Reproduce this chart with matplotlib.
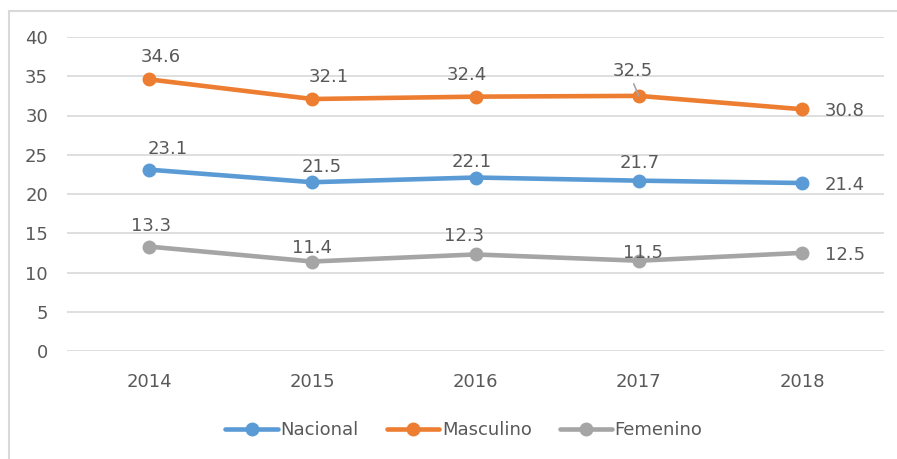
import matplotlib.pyplot as plt
from matplotlib.patches import Rectangle

years = ['2014', '2015', '2016', '2017', '2018']
nacional = [23.1, 21.5, 22.1, 21.7, 21.4]
masculino = [34.6, 32.1, 32.4, 32.5, 30.8]
femenino = [13.3, 11.4, 12.3, 11.5, 12.5]

# label offsets in pixels (dx, dy) for each point
off_nac = [(19, 21), (9, 15), (-4, 16), (1, 18), (23, -2)]
off_mas = [(12, 22), (16, 22), (-9, 22), (-6, 25), (23, -2)]
off_fem = [(2, 21), (0, 14), (-11, 18), (4, 8), (23, -2)]

txt = '#595959'
plt.rcParams['font.family'] = 'DejaVu Sans'
plt.rcParams['font.size'] = 13

fig = plt.figure(figsize=(8.97, 4.59), dpi=100)
ax = fig.add_axes([67.4 / 897, 108 / 459, (883.6 - 67.4) / 897, 314 / 459])

x = list(range(len(years)))
series = [('Nacional', nacional, '#5B9BD5', off_nac),
          ('Masculino', masculino, '#ED7D31', off_mas),
          ('Femenino', femenino, '#A5A5A5', off_fem)]
for name, vals, col, offs in series:
    ax.plot(x, vals, color=col, lw=3.3, marker='o', ms=9, label=name,
            solid_capstyle='round')
    for i, v in enumerate(vals):
        dx, dy = offs[i]
        ha = 'left' if i == len(vals) - 1 else 'center'
        ax.annotate(f'{v:.1f}', (i, v), xytext=(dx, dy), textcoords='offset pixels',
                    ha=ha, va='center', color=txt, fontsize=13)

# small leader line for the 2017 masculino label
ax.annotate('', (3, masculino[3]), xytext=(-5, 12), textcoords='offset pixels',
            arrowprops=dict(arrowstyle='-', color='#A5A5A5', lw=1.2,
                            shrinkA=0, shrinkB=0), zorder=5)

ax.set_xlim(-0.5, 4.5)
ax.set_ylim(0, 40)
ax.set_yticks(range(0, 41, 5))
ax.set_xticks(x)
ax.set_xticklabels(years)
ax.grid(axis='y', color='#D9D9D9', lw=1.2)
ax.set_axisbelow(True)
for s in ax.spines.values():
    s.set_visible(False)
ax.tick_params(length=0, colors=txt, labelsize=13)
ax.tick_params(axis='y', pad=14)
ax.tick_params(axis='x', pad=16)

fig.legend(loc='center', bbox_to_anchor=(464 / 897, 1 - 430 / 459), ncol=3,
           frameon=False, handlelength=2.9, handletextpad=0.15, columnspacing=1.55,
           labelcolor=txt, fontsize=13)

# chart border (cropped at the right and bottom)
fig.patches.append(Rectangle((9 / 897, -0.1), 1, 1 - 11 / 459 + 0.1,
                             transform=fig.transFigure, fill=False,
                             edgecolor='#D9D9D9', lw=1.5))

fig.savefig('out.png', dpi=100)
